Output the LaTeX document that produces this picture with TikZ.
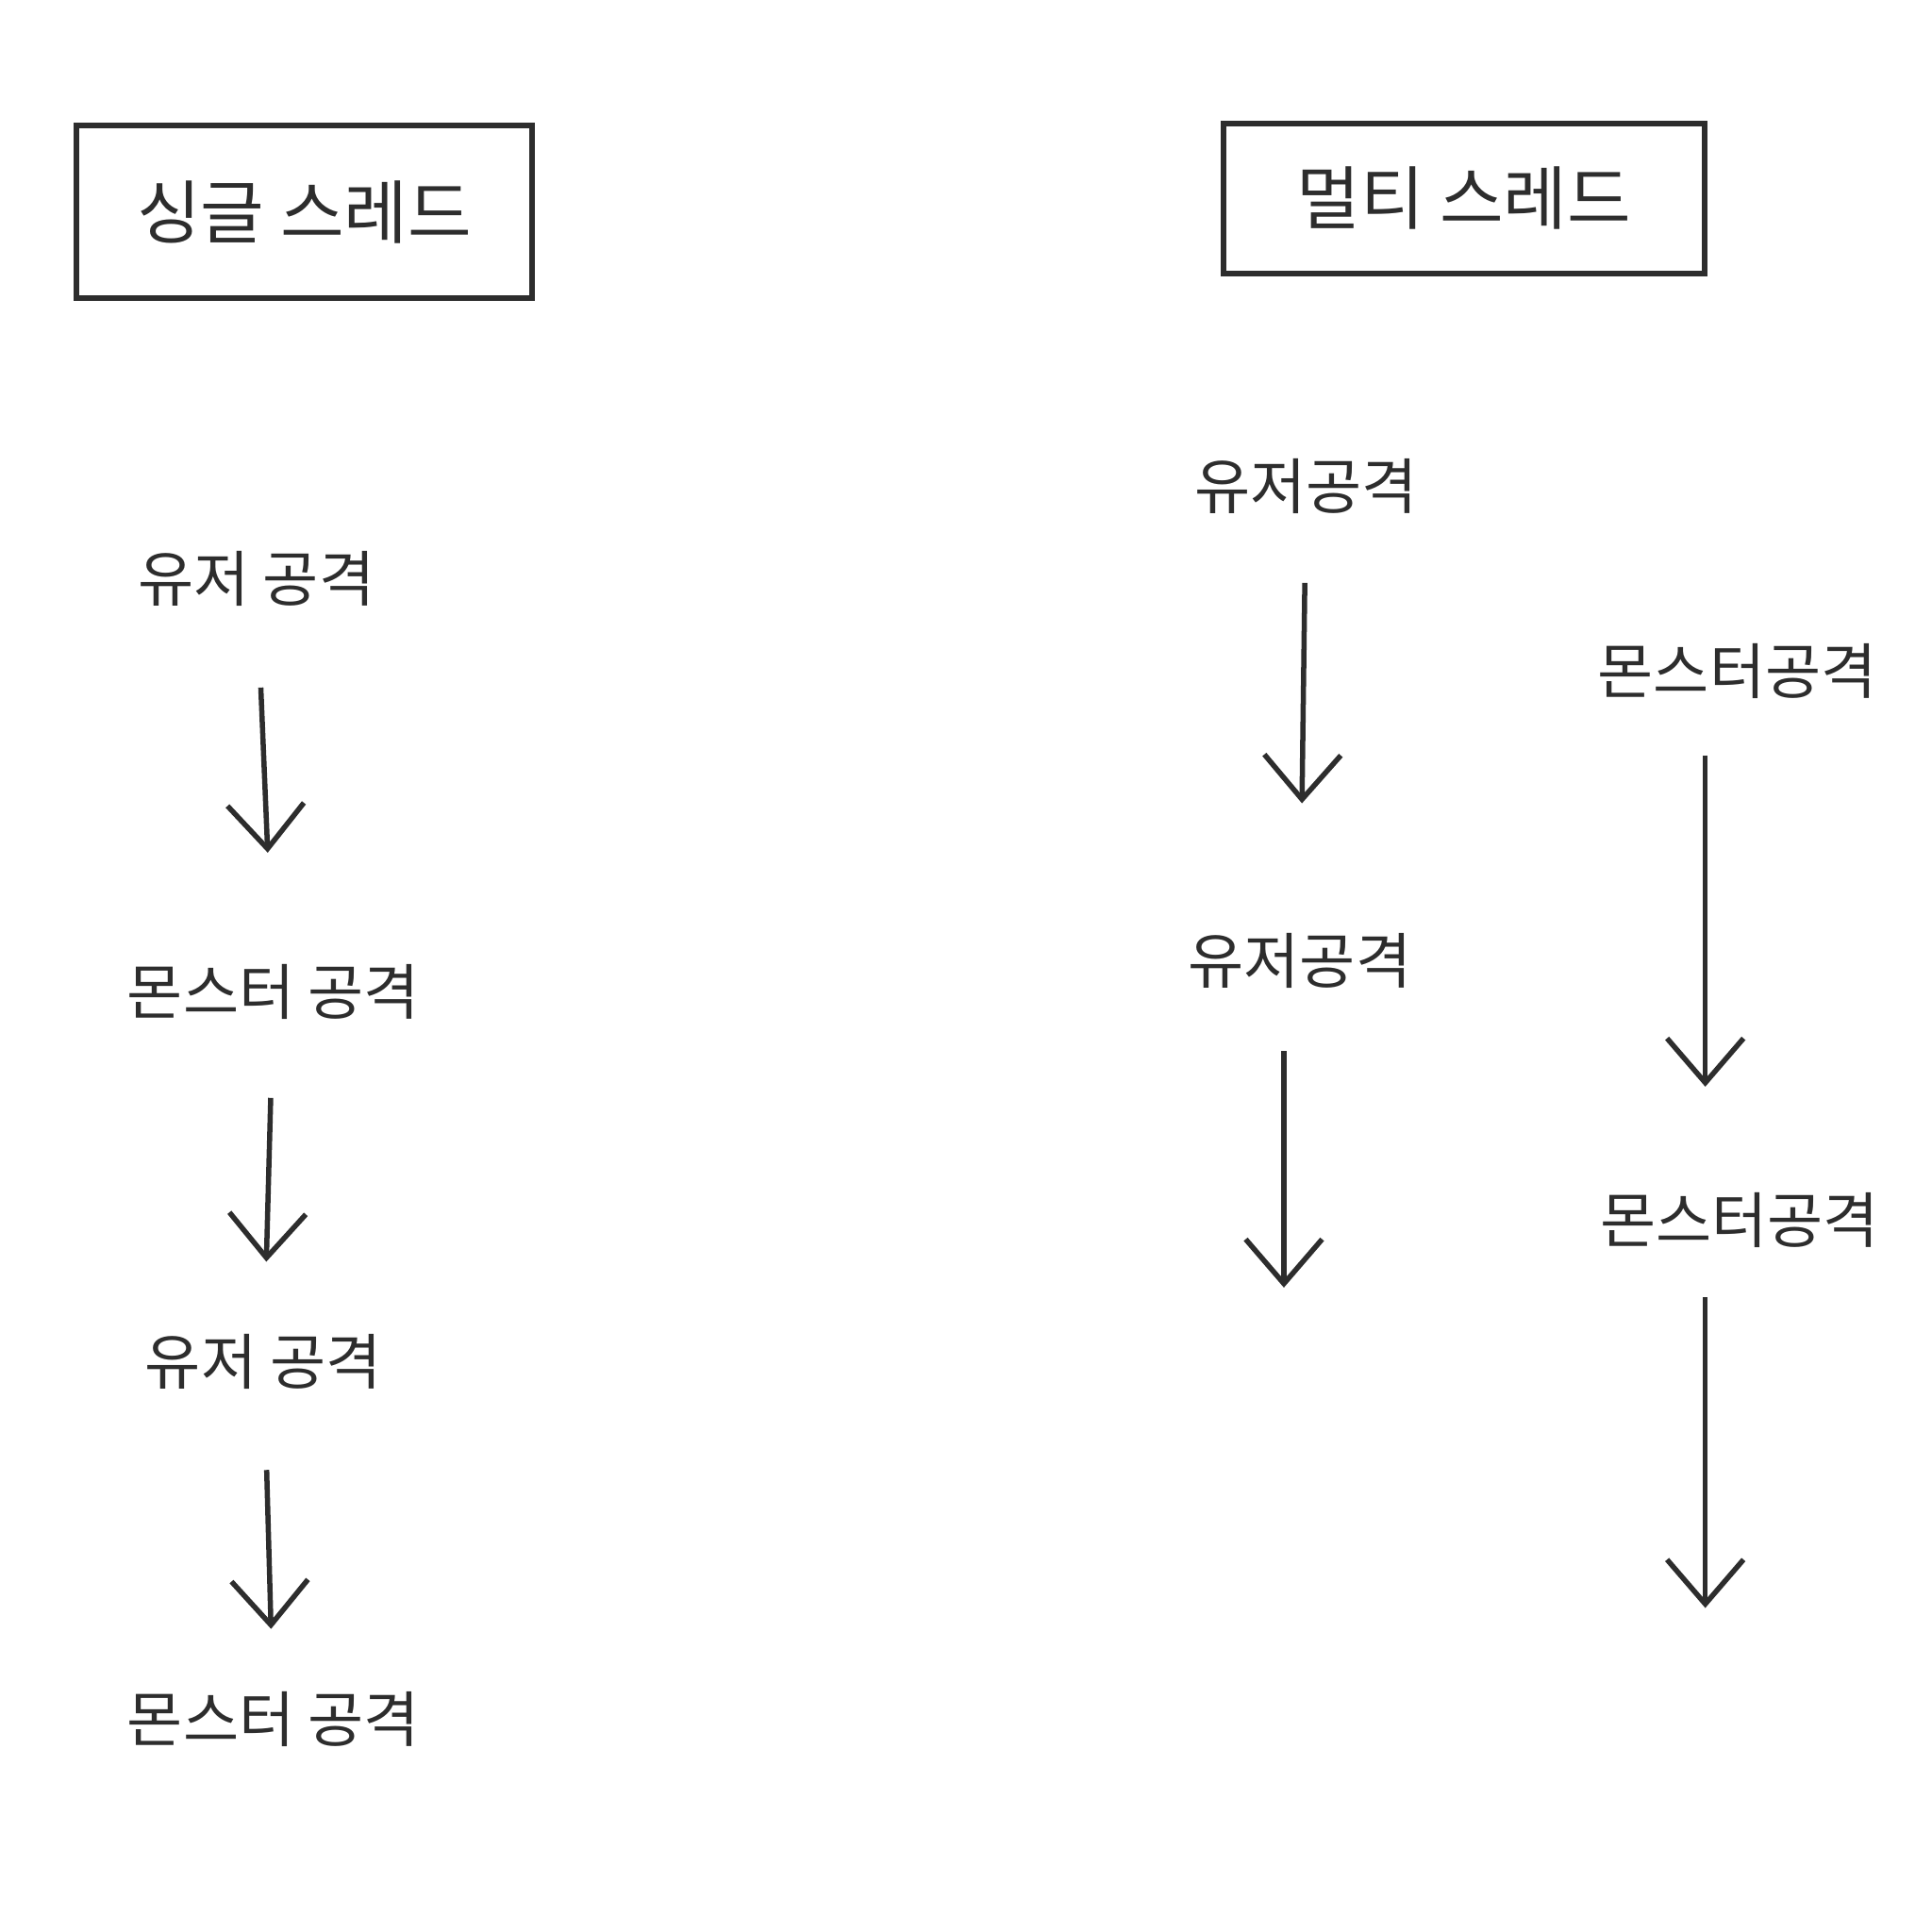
\documentclass[tikz,border=0pt]{standalone}
\usepackage{fontspec}
\newfontfamily\krfont{Noto Sans CJK KR}
\usetikzlibrary{positioning,arrows.meta}
\definecolor{pencil}{RGB}{45,45,45}
\tikzset{
  hdr/.style={draw=pencil,line width=1.3pt,minimum width=3.7cm,minimum height=1.4cm,font=\krfont\fontsize{16}{19}\selectfont,text=pencil},
  lbl/.style={inner sep=0pt,font=\krfont\fontsize{14}{17}\selectfont,text=pencil},
  flow/.style={draw=pencil,line width=1.2pt,-{Straight Barb[length=3.6mm,width=6.2mm,line width=1.2pt]}}
}
\begin{document}
\begin{tikzpicture}[x=0.01cm,y=-0.01cm]
  \useasboundingbox (0,0) rectangle (1568,1568);
  % headers
  \node[hdr] (single) at (247,172) {싱글 스레드};
  \node[hdr,minimum width=3.9cm,minimum height=1.22cm] (multi) at (1188,161) {멀티 스레드};
  % single thread
  \node[lbl] (s1) at (208,470) {유저 공격};
  \node[lbl] (s2) at (222,805) {몬스터 공격};
  \node[lbl] (s3) at (214,1105) {유저 공격};
  \node[lbl] (s4) at (222,1395) {몬스터 공격};
  \draw[flow,shorten <=6.5mm,shorten >=9mm] (s1) -- (s2);
  \draw[flow,shorten <=6.3mm,shorten >=5.8mm] (s2) -- (s3);
  \draw[flow,shorten <=6.5mm,shorten >=5mm] (s3) -- (s4);
  % multi thread
  \node[lbl] (u1) at (1060,395) {유저공격};
  \node[lbl] (u2) at (1055,780) {유저공격};
  \coordinate (uend) at (1042,1045);
  \node[lbl] (m1) at (1410,545) {몬스터공격};
  \node[lbl] (m2) at (1412,990) {몬스터공격};
  \coordinate (mend) at (1384,1305);
  \draw[flow,shorten <=5.5mm,shorten >=10.5mm] (u1) -- (u2);
  \draw[flow,shorten <=5mm] (u2.south -| uend) -- (uend);
  \draw[flow,shorten <=4.5mm,shorten >=8.5mm] (m1.south -| mend) -- (m2.north -| mend);
  \draw[flow,shorten <=4mm] (m2.south -| mend) -- (mend);
\end{tikzpicture}
\end{document}
